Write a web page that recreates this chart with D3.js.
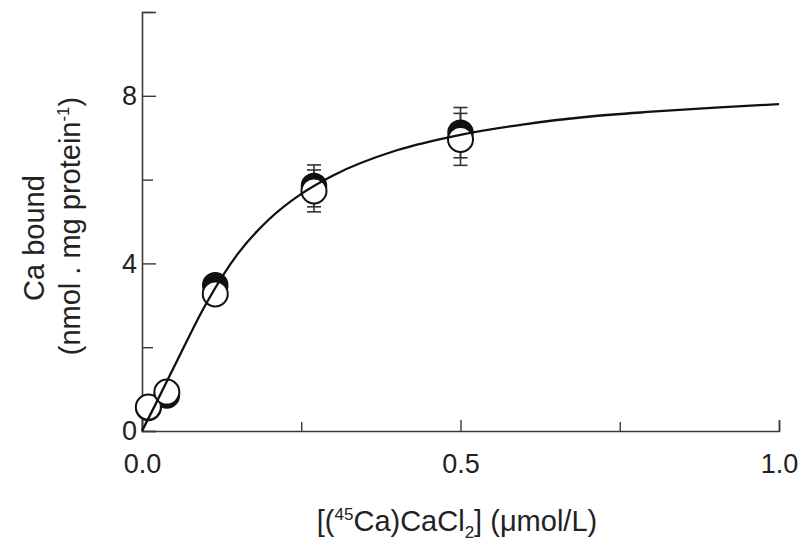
<!DOCTYPE html>
<html>
<head>
<meta charset="utf-8">
<script src="https://cdn.jsdelivr.net/npm/d3@7"></script>
<style>
  html, body { margin: 0; padding: 0; background: #fff; }
  svg { display: block; }
  text { font-family: Arial, "Liberation Sans", sans-serif; fill: #222; }
</style>
</head>
<body>
<svg id="chart" width="801" height="552"></svg>
<script>
// ---- data ----
const concX      = [0.010, 0.039, 0.115, 0.270, 0.500];        // [(45Ca)CaCl2] µmol/L
const filledY    = [0.55, 0.85, 3.48, 5.85, 7.12];             // filled circles
const filledErr  = [0.10, 0.10, 0.15, 0.50, 0.60];
const openY      = [0.57, 0.93, 3.27, 5.73, 6.96];             // open circles
const openErr    = [0.10, 0.10, 0.15, 0.50, 0.62];
const fitX = [0, 0.02, 0.05, 0.10, 0.15, 0.20, 0.25, 0.30, 0.40, 0.50, 0.60, 0.70, 0.80, 0.90, 1.00];
const fitY = [0, 0.60, 1.52, 3.02, 4.22, 5.06, 5.66, 6.10, 6.70, 7.07, 7.32, 7.50, 7.62, 7.72, 7.80];
const xTicks = [0, 0.25, 0.5, 0.75, 1.0];
const xTickLabels = ["0.0", "", "0.5", "", "1.0"];
const yTicks = [0, 2, 4, 6, 8, 10];
const yTickLabels = ["0", "", "4", "", "8", ""];

const svg = d3.select("#chart");
const x = d3.scaleLinear().domain([0, 1]).range([142, 779]);
const y = d3.scaleLinear().domain([0, 10]).range([431, 12]);
const axisColor = "#3a3a3a";

// axes
const gx = svg.append("g").attr("transform", `translate(0,${y(0)})`)
  .call(d3.axisBottom(x).tickValues(xTicks).tickSize(-11).tickPadding(23)
        .tickFormat((d, i) => xTickLabels[i]));
const gy = svg.append("g").attr("transform", `translate(${x(0)},0)`)
  .call(d3.axisLeft(y).tickValues(yTicks).tickSize(-14).tickPadding(5)
        .tickFormat((d, i) => yTickLabels[i]));
[gx, gy].forEach(g => {
  g.select(".domain").attr("stroke", axisColor).attr("stroke-width", 1.6);
  g.selectAll(".tick line").attr("stroke", axisColor).attr("stroke-width", 1.4);
  g.selectAll(".tick text").style("font-size", "27px").attr("fill", "#2a2a2a")
    .style("font-family", "Arial, 'Liberation Sans', sans-serif");
});
gx.selectAll(".tick line").attr("y2", (d, i) => xTickLabels[i] ? -11 : -9);
gy.selectAll(".tick line").attr("x2", (d, i) => yTickLabels[i] ? 14 : 11);

// axis titles
const xt = svg.append("text").attr("x", 457).attr("y", 531)
  .attr("text-anchor", "middle").style("font-size", "29px").attr("fill", "#2a2a2a");
xt.append("tspan").text("[(");
xt.append("tspan").attr("dy", -11).style("font-size", "17px").text("45");
xt.append("tspan").attr("dy", 11).text("Ca)CaCl");
xt.append("tspan").attr("dy", 7).style("font-size", "17px").text("2");
xt.append("tspan").attr("dy", -7).text("] (\u03bcmol/L)");

svg.append("text").attr("transform", "translate(44,238) rotate(-90)")
  .attr("text-anchor", "middle").style("font-size", "29px").attr("fill", "#2a2a2a").text("Ca bound");
const yt2 = svg.append("text").attr("transform", "translate(80,226) rotate(-90)")
  .attr("text-anchor", "middle").style("font-size", "29px").attr("fill", "#2a2a2a");
yt2.append("tspan").text("(nmol . mg protein");
yt2.append("tspan").attr("dy", -11).style("font-size", "17px").text("-1");
yt2.append("tspan").attr("dy", 11).text(")");

// error bars
function errBars(ys, es) {
  const g = svg.append("g").attr("stroke", "#333").attr("stroke-width", 1.6);
  concX.forEach((cx, i) => {
    const px = x(cx), top = y(ys[i] + es[i]), bot = y(ys[i] - es[i]);
    g.append("line").attr("x1", px).attr("x2", px).attr("y1", top).attr("y2", bot);
    g.append("line").attr("x1", px - 7).attr("x2", px + 7).attr("y1", top).attr("y2", top);
    g.append("line").attr("x1", px - 7).attr("x2", px + 7).attr("y1", bot).attr("y2", bot);
  });
}
errBars(filledY, filledErr);
errBars(openY, openErr);

// filled circles (behind)
svg.append("g").selectAll("circle").data(concX).join("circle")
  .attr("cx", d => x(d)).attr("cy", (d, i) => y(filledY[i])).attr("r", 12.5)
  .attr("fill", "#111").attr("stroke", "#111").attr("stroke-width", 1.5);
// open circles
svg.append("g").selectAll("circle").data(concX).join("circle")
  .attr("cx", d => x(d)).attr("cy", (d, i) => y(openY[i])).attr("r", 12.5)
  .attr("fill", "#fff").attr("stroke", "#111").attr("stroke-width", 2);

// fitted curve on top
svg.append("path").datum(fitX.map((d, i) => [d, fitY[i]]))
  .attr("fill", "none").attr("stroke", "#111").attr("stroke-width", 2.3)
  .attr("d", d3.line().x(d => x(d[0])).y(d => y(d[1])).curve(d3.curveMonotoneX));
</script>
</body>
</html>
